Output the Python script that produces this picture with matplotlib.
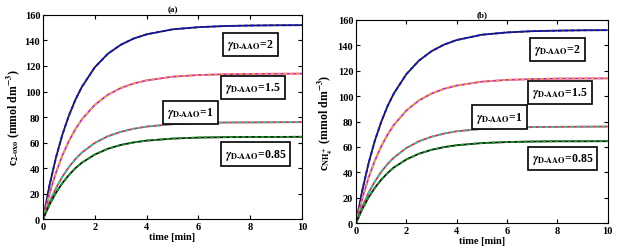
import numpy as np
import matplotlib
matplotlib.use('Agg')
import matplotlib.pyplot as plt

plt.rcParams['font.family'] = 'Liberation Serif'
plt.rcParams['font.weight'] = 'bold'
plt.rcParams['mathtext.fontset'] = 'stix'

# time points [min]
t = [0, 0.25, 0.5, 0.75, 1, 1.25, 1.5, 2, 2.5, 3, 3.5, 4, 5, 6, 7, 8, 9, 10]

# panel (a): c_2-oxo
a_g2 = [0, 26.4, 48.2, 66.3, 81.1, 93.5, 103.6, 119.0, 129.5, 136.6, 141.5, 144.8, 148.7, 150.4, 151.3, 151.7, 151.9, 152.0]
a_g15 = [0, 19.9, 36.4, 50.0, 61.2, 70.4, 78.1, 89.5, 97.4, 102.7, 106.3, 108.7, 111.6, 112.9, 113.5, 113.8, 113.9, 114.0]
a_g1 = [0, 13.3, 24.2, 33.3, 40.8, 47.0, 52.1, 59.7, 64.9, 68.4, 70.8, 72.5, 74.4, 75.2, 75.7, 75.8, 75.9, 76.0]
a_g085 = [0, 11.3, 20.6, 28.3, 34.6, 39.9, 44.2, 50.6, 55.1, 58.1, 60.1, 61.5, 63.1, 63.9, 64.2, 64.4, 64.4, 64.5]

# panel (b): c_NH4+
b_g2 = [0, 25.8, 47.2, 65.0, 79.6, 92.0, 102.0, 117.3, 128.0, 135.4, 140.6, 144.2, 148.4, 150.2, 151.2, 151.6, 151.9, 152.0]
b_g15 = [0, 19.5, 35.8, 49.2, 60.3, 69.5, 77.2, 88.6, 96.6, 102.0, 105.8, 108.3, 111.4, 112.8, 113.4, 113.8, 113.9, 114.0]
b_g1 = [0, 13.0, 23.8, 32.8, 40.2, 46.4, 51.5, 59.1, 64.4, 68.0, 70.5, 72.3, 74.2, 75.1, 75.6, 75.8, 75.9, 76.0]
b_g085 = [0, 11.0, 20.2, 27.8, 34.1, 39.3, 43.7, 50.1, 54.6, 57.7, 59.8, 61.3, 63.0, 63.8, 64.2, 64.4, 64.4, 64.5]

labels = [r'$\gamma_{\mathbf{D\text{-}AAO}}$=2', r'$\gamma_{\mathbf{D\text{-}AAO}}$=1.5',
          r'$\gamma_{\mathbf{D\text{-}AAO}}$=1', r'$\gamma_{\mathbf{D\text{-}AAO}}$=0.85']
label_pos = [(8.0, 137), (8.1, 103), (5.7, 83.5), (8.2, 51)]

# (solid line colour, dashed overlay colour)
styles = [('#202020', '#1010ee'), ('#e010e0', '#d8b020'), ('#ff2020', '#20c8c8'), ('#101010', '#10a020')]

fig = plt.figure(figsize=(6.17, 2.53), dpi=100)
ax_a = fig.add_axes([0.0697, 0.130, 0.4198, 0.807])
ax_b = fig.add_axes([0.577, 0.1146, 0.408, 0.8024])

panels = [(ax_a, [a_g2, a_g15, a_g1, a_g085], '(a)', r'c$_{\mathbf{2\text{-}oxo}}$ (mmol dm$^{\mathbf{-3}}$)'),
          (ax_b, [b_g2, b_g15, b_g1, b_g085], '(b)', r'c$_{\mathbf{NH_4^+}}$ (mmol dm$^{\mathbf{-3}}$)')]

for ax, series, title, ylab in panels:
    for y, (c1, c2) in zip(series, styles):
        ax.plot(t, y, color=c1, lw=1.3, solid_capstyle='butt')
        ax.plot(t, y, color=c2, lw=1.3, ls=(0, (2, 1.5)))
    for lab, (x, y) in zip(labels, label_pos):
        ax.text(x, y, lab, ha='center', va='center', fontsize=8.5, fontweight='bold',
                bbox=dict(boxstyle='square,pad=0.35', fc='white', ec='black', lw=1.2))
    ax.set_xlim(0, 10)
    ax.set_ylim(0, 160)
    ax.set_xticks([0, 2, 4, 6, 8, 10])
    ax.set_yticks(range(0, 161, 20))
    ax.tick_params(direction='in', top=True, right=True, labelsize=7.5, length=3, pad=2)
    for lb in ax.get_xticklabels() + ax.get_yticklabels():
        lb.set_fontweight('bold')
    ax.set_xlabel('time [min]', fontsize=7.5, fontweight='bold', labelpad=1)
    ax.set_ylabel(ylab, fontsize=8.5, fontweight='bold', labelpad=2)
    ax.set_title(title, fontsize=6.5, fontweight='bold', pad=3)
    for s in ax.spines.values():
        s.set_linewidth(0.8)

fig.savefig('out.png', dpi=100)
